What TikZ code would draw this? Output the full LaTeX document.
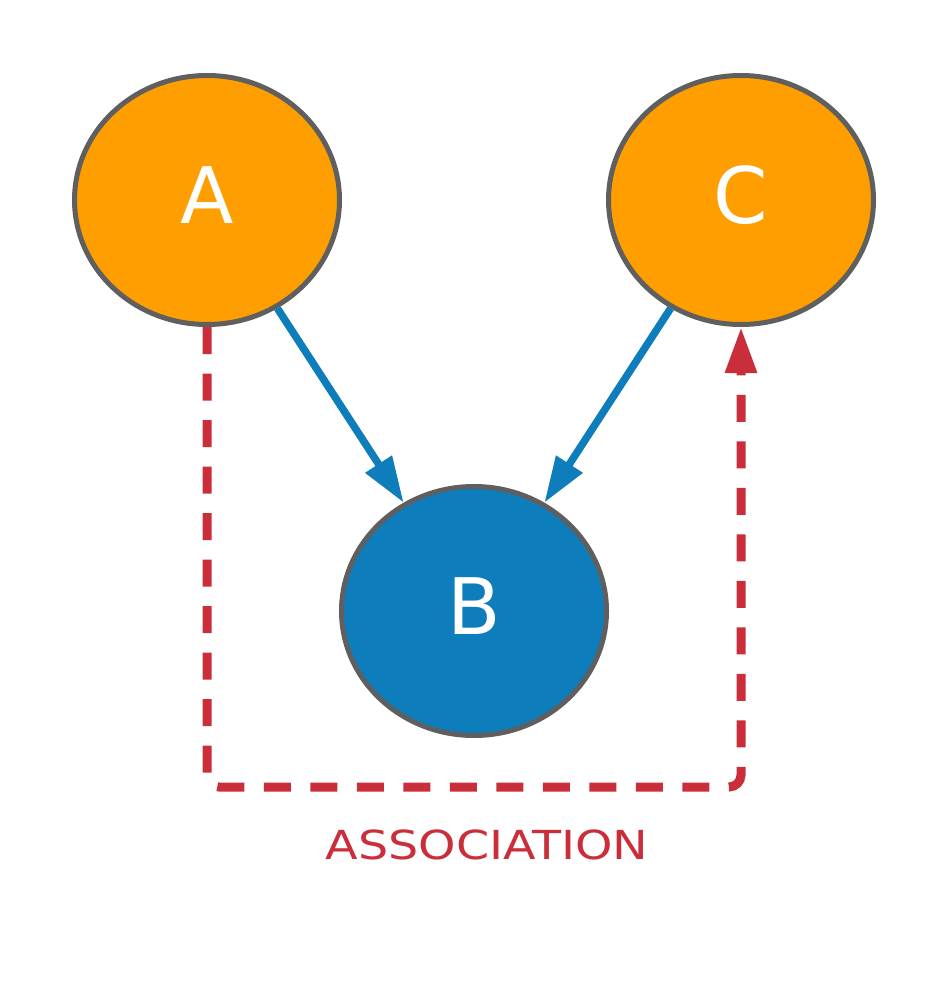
\documentclass[tikz,border=0pt]{standalone}
\usepackage{fontspec}
\setmainfont{DejaVu Sans}
\usetikzlibrary{shapes.geometric,arrows.meta}
\definecolor{orangefill}{RGB}{255,158,0}
\definecolor{bluefill}{RGB}{14,125,187}
\definecolor{assocred}{RGB}{201,46,58}
\definecolor{bordergray}{RGB}{95,95,95}
\tikzset{
  bubble/.style={ellipse, draw=bordergray, line width=5pt, minimum width=265pt,
    minimum height=249pt, inner sep=0pt, text=white, text depth=10pt,
    font=\fontsize{78}{78}\selectfont},
  orangebubble/.style={bubble, fill=orangefill},
  bluebubble/.style={bubble, fill=bluefill},
  flow/.style={draw=bluefill, line width=7.5pt, -{Triangle[length=46pt,width=30pt]}},
  assoc/.style={draw=assocred, line width=9pt, dash pattern=on 27pt off 19.5pt,
    rounded corners=12pt, -{Triangle[length=46pt,width=30pt]}},
  assoclabel/.style={text=assocred, font=\fontsize{40}{40}\selectfont, xscale=1.19, inner sep=0pt}
}
\begin{document}
\begin{tikzpicture}[x=1pt,y=-1pt]
\useasboundingbox (0,0) rectangle (951,981);
\node[orangebubble] (A) at (207,200) {A};
\node[orangebubble] (C) at (741,200) {C};
\node[bluebubble] (B) at (474,611) {B};
\coordinate (bl) at (207,787);
\coordinate (br) at (741,787);
\draw[flow] (A) -- (B);
\draw[flow] (C) -- (B);
\draw[assoc] (A.south) -- (bl) -- (br) -- (C.south);
\node[assoclabel] (lbl) at (487,844.5) {ASSOCIATION};
\end{tikzpicture}
\end{document}
